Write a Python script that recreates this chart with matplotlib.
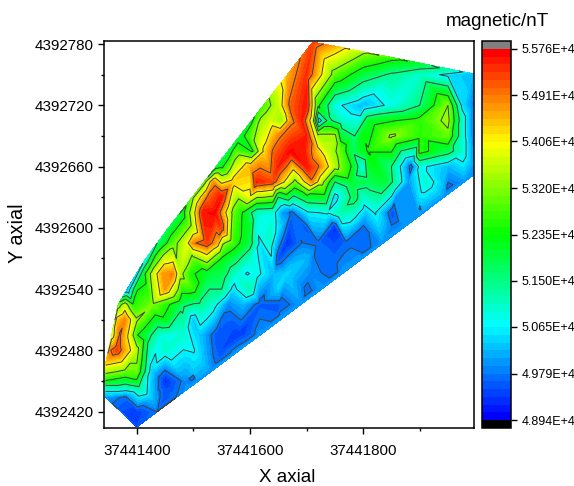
import numpy as np
import matplotlib
matplotlib.use("Agg")
import matplotlib.pyplot as plt
from matplotlib.colors import LinearSegmentedColormap, BoundaryNorm
from matplotlib.ticker import MultipleLocator
import matplotlib.tri as mtri

plt.rcParams['font.family'] = ['Liberation Sans', 'DejaVu Sans']

X_BASE = 37440000
Y_BASE = 4392000

# survey rows: y (offset), x (offset), magnetic value
rows = [
    (782, [1711], [55300]),
    (778, [1750], [54500]),
    (772, [1800], [53300]),
    (766, [1850], [52500]),
    (761, [1899], [52000]),
    (755, [1949], [51300]),
    (751, [1995], [50200]),
    (750, [1666, 1700, 1750, 1800, 1850, 1900, 1950],
          [54500, 55400, 52900, 51900, 51400, 51000, 50500]),
    (720, [1624, 1650, 1670, 1700, 1720, 1750, 1800, 1850, 1900, 1950, 1975, 1995],
          [52800, 53600, 55000, 55600, 52500, 50800, 50200, 50800, 51500, 53200, 50500, 49800]),
    (705, [1603, 1618, 1635, 1657, 1674, 1692, 1711, 1722, 1738, 1763, 1809, 1850, 1900, 1950, 1975, 1995],
          [52200, 53300, 53700, 53300, 54800, 55500, 53500, 50200, 51700, 51000, 52000, 52300, 52600, 53400, 51000, 49800]),
    (690, [1582, 1600, 1650, 1700, 1720, 1750, 1785, 1800, 1850, 1900, 1950, 1975, 1995],
          [52000, 52800, 54800, 55500, 53400, 53400, 51500, 52300, 53300, 52600, 53000, 51000, 49800]),
    (675, [1561, 1575, 1605, 1625, 1641, 1671, 1697, 1720, 1738, 1759, 1780, 1809, 1850, 1900, 1950, 1975, 1995],
          [51800, 52800, 52300, 54200, 55000, 55650, 55500, 54300, 53600, 53000, 51700, 52400, 52400, 52600, 51800, 51000, 50000]),
    (660, [1540, 1550, 1600, 1650, 1700, 1720, 1750, 1780, 1800, 1850, 1885, 1900, 1950, 1995],
          [52000, 52200, 54500, 55500, 55600, 55000, 53500, 52300, 50800, 51500, 49600, 50800, 50200, 50000]),
    (652, [1996], [50000]),
    (645, [1520, 1535, 1570, 1612, 1641, 1658, 1680, 1692, 1710, 1727, 1750, 1780, 1809, 1839, 1857, 1880, 1910, 1940, 1979],
          [53000, 54700, 54300, 55500, 55200, 54200, 53000, 53800, 54800, 53500, 51500, 52000, 51800, 52000, 51300, 50000, 51000, 50300, 50000]),
    (630, [1498, 1525, 1550, 1600, 1650, 1700, 1750, 1785, 1800, 1850, 1857, 1900, 1943],
          [53000, 55000, 55600, 53900, 51500, 52000, 50400, 51800, 51000, 50600, 50000, 50500, 50000]),
    (615, [1478, 1500, 1517, 1538, 1552, 1570, 1588, 1612, 1640, 1658, 1674, 1703, 1738, 1759, 1780, 1804, 1821, 1851, 1897, 1906],
          [51800, 53800, 55600, 55650, 54500, 53000, 52300, 51000, 50900, 50000, 49700, 50600, 50700, 51200, 51100, 50300, 50700, 49500, 50000, 50000]),
    (600, [1456, 1500, 1550, 1600, 1612, 1650, 1700, 1750, 1800, 1850, 1871],
          [51800, 53500, 55300, 52000, 50800, 50500, 49600, 49300, 49700, 49850, 50000]),
    (585, [1436, 1446, 1464, 1489, 1499, 1524, 1542, 1552, 1570, 1600, 1618, 1635, 1665, 1692, 1720, 1770, 1835],
          [51500, 52000, 52900, 53900, 54800, 55300, 54500, 53300, 52700, 51800, 50500, 51000, 49300, 49800, 49700, 49700, 50000]),
    (570, [1416, 1450, 1500, 1550, 1600, 1650, 1700, 1750, 1798],
          [50800, 53700, 53000, 52300, 51000, 49500, 50200, 49700, 50000]),
    (555, [1399, 1411, 1428, 1446, 1464, 1476, 1494, 1524, 1552, 1577, 1595, 1612, 1641, 1665, 1706, 1763],
          [50300, 52000, 53600, 54700, 54800, 53500, 52500, 52000, 51800, 50900, 50600, 50800, 50200, 50400, 49900, 50000]),
    (540, [1383, 1400, 1450, 1500, 1550, 1570, 1600, 1650, 1700, 1726],
          [50000, 52300, 54700, 52600, 51500, 50500, 51200, 50400, 49700, 50000]),
    (525, [1367, 1379, 1393, 1405, 1428, 1453, 1481, 1512, 1533, 1561, 1588, 1618, 1653, 1690],
          [52800, 53600, 52400, 52700, 53100, 52500, 51700, 51400, 51000, 49900, 50200, 49600, 49600, 50000]),
    (510, [1364, 1379, 1400, 1450, 1500, 1550, 1600, 1653],
          [54300, 54800, 53300, 52200, 50300, 49700, 49500, 50000]),
    (495, [1357, 1370, 1388, 1400, 1418, 1441, 1464, 1481, 1512, 1542, 1580, 1617],
          [53800, 55000, 53800, 52400, 51800, 50900, 50800, 51000, 50300, 49500, 49400, 50000]),
    (480, [1351, 1365, 1400, 1450, 1500, 1550, 1581],
          [54800, 55300, 53500, 51000, 50700, 49500, 50000]),
    (468, [1345], [54300]),
    (459, [1345, 1380, 1400, 1425, 1450, 1500, 1530],
          [53400, 53000, 53000, 50400, 49700, 50300, 50000]),
    (450, [1345, 1400, 1450, 1485, 1508],
          [52300, 52200, 49300, 49900, 50000]),
    (443, [1345, 1380, 1405, 1450, 1492],
          [51000, 51000, 51300, 49500, 50000]),
    (434, [1345, 1380, 1425, 1450, 1470],
          [50000, 49700, 50300, 49500, 49800]),
    (420, [1373, 1400, 1436], [49500, 49400, 49800]),
    (405, [1400], [49500]),
]

# second line of readings just inside the south-east edge
inner_x = [1500, 1550, 1600, 1650, 1700, 1750, 1800, 1850, 1900, 1950]
inner_y = [455, 475, 496, 517, 538, 558, 579, 600, 620, 641]
inner_z = [49650, 49600, 49600, 49650, 49650, 49650, 49650, 49650, 49650, 49700]

x_vals = np.concatenate([np.array(r[1], float) for r in rows] + [np.array(inner_x, float)]) + X_BASE
y_vals = np.concatenate([np.full(len(r[1]), r[0], float) for r in rows] + [np.array(inner_y, float)]) + Y_BASE
z_vals = np.concatenate([np.array(r[2], float) for r in rows] + [np.array(inner_z, float)])

color_anchors = [(0, 0, 255), (0, 128, 255), (0, 255, 255), (0, 255, 128), (0, 255, 0),
                 (128, 255, 0), (255, 255, 0), (255, 128, 0), (255, 0, 0)]
tick_values = [48940, 49790, 50650, 51500, 52350, 53200, 54060, 54910, 55760]
tick_labels = ['4.894E+4', '4.979E+4', '5.065E+4', '5.150E+4', '5.235E+4',
               '5.320E+4', '5.406E+4', '5.491E+4', '5.576E+4']

cmap = LinearSegmentedColormap.from_list('rb', [tuple(c / 255 for c in a) for a in color_anchors], N=48)
cmap.set_under('black')
cmap.set_over('#808080')
levels = np.linspace(48940, 55760, 49)
norm = BoundaryNorm(levels, 48)

W, H = 574, 486
fig = plt.figure(figsize=(W / 100, H / 100), dpi=100)
ax = fig.add_axes([104 / W, 1 - 428 / H, 370 / W, 387 / H])

tri = mtri.Triangulation(x_vals, y_vals)
cf = ax.tricontourf(tri, z_vals, levels=levels, cmap=cmap, norm=norm, extend='both', antialiased=False)
ax.tricontour(tri, z_vals, levels=tick_values[1:-1], colors='#404040', linewidths=0.7)

ax.set_xlim(37441342, 37441996)
ax.set_ylim(4392404, 4392783)
ax.xaxis.set_major_locator(MultipleLocator(200))
ax.xaxis.set_minor_locator(MultipleLocator(100))
ax.yaxis.set_major_locator(MultipleLocator(60))
ax.yaxis.set_minor_locator(MultipleLocator(30))
ax.ticklabel_format(useOffset=False, style='plain')
ax.tick_params(which='major', length=4.5, width=1, labelsize=10.9, pad=3)
ax.tick_params(axis='x', which='major', pad=7)
ax.tick_params(which='minor', length=2.5, width=1)
for s in ax.spines.values():
    s.set_linewidth(1.1)
ax.set_xlabel('X axial', fontsize=13.5)
ax.set_ylabel('Y axial', fontsize=14.3)
ax.xaxis.set_label_coords((287 - 104) / 370, -(477 - 428) / 387, transform=ax.transAxes)
ax.xaxis.label.set_va('center')
ax.yaxis.set_label_coords((18 - 104) / 370, (428 - 233) / 387, transform=ax.transAxes)
ax.yaxis.label.set_va('center')

cax = fig.add_axes([481.5 / W, 1 - 428 / H, 29.5 / W, 387 / H])
cb = fig.colorbar(cf, cax=cax, extend='both', extendrect=True, extendfrac=8 / 372,
                  spacing='proportional', drawedges=False)
cb.set_ticks(tick_values, labels=tick_labels)
cb.ax.minorticks_off()
cb.ax.tick_params(length=4.5, width=1, labelsize=9, pad=3, right=True)
cb.outline.set_linewidth(1.1)
fig.text(497 / W, 1 - 21 / H, 'magnetic/nT', fontsize=13.5, ha='center', va='center')

fig.savefig('out.png', dpi=100)
